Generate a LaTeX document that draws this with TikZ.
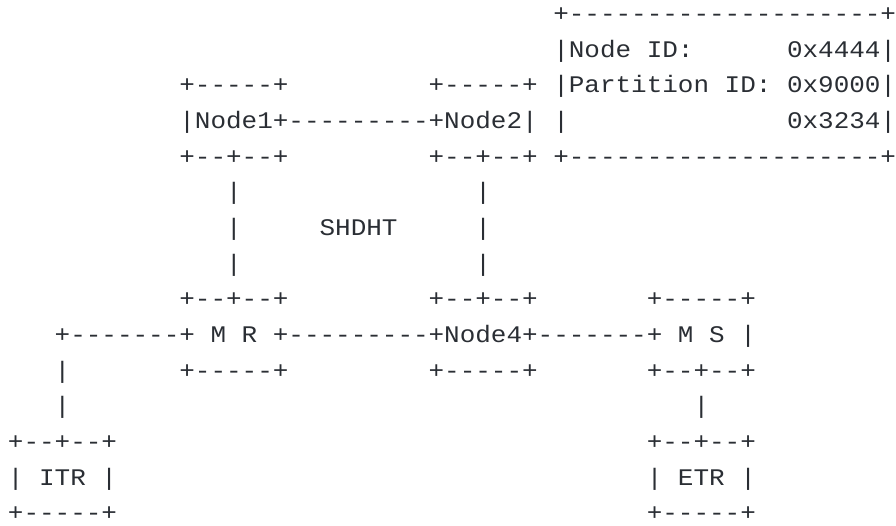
\documentclass[tikz,border=0pt]{standalone}
\usepackage{fontspec}
\newfontfamily\asciimono[FakeStretch=1.091]{Liberation Mono}
\definecolor{inkgray}{RGB}{42,46,52}
\newcommand\Seg[4]{\node[seg] (#1) at ({8+15.58*#2},{-21.7-35.64*#3}) {#4};}
\begin{document}
\begin{tikzpicture}[x=1pt,y=1pt,
  seg/.style={anchor=base west,inner sep=0pt,outer sep=0pt,text=inkgray,
    font=\asciimono\fontsize{23.8pt}{28pt}\selectfont}]
\useasboundingbox (0,0) rectangle (896,-525);
% right info box
\Seg{ibtop}{35}{0}{+--------------------+}
\Seg{ibnode}{35}{1}{|Node}
\Seg{ibid}{41}{1}{ID:}
\Seg{ibval}{50}{1}{0x4444|}
\Seg{ibpart}{35}{2}{|Partition}
\Seg{ibpid}{46}{2}{ID:}
\Seg{ibpval}{50}{2}{0x9000|}
\Seg{ibl}{35}{3}{|}
\Seg{ibpval2}{50}{3}{0x3234|}
\Seg{ibbot}{35}{4}{+--------------------+}
% Node1 / Node2
\Seg{ntop1}{11}{2}{+-----+}
\Seg{ntop2}{27}{2}{+-----+}
\Seg{nrow}{11}{3}{|Node1+---------+Node2|}
\Seg{nbot1}{11}{4}{+--+--+}
\Seg{nbot2}{27}{4}{+--+--+}
% SHDHT ring verticals
\Seg{va1}{14}{5}{|}
\Seg{vb1}{30}{5}{|}
\Seg{va2}{14}{6}{|}
\Seg{shdht}{20}{6}{SHDHT}
\Seg{vb2}{30}{6}{|}
\Seg{va3}{14}{7}{|}
\Seg{vb3}{30}{7}{|}
% M R / Node4 / M S
\Seg{mrtop}{11}{8}{+--+--+}
\Seg{n4top}{27}{8}{+--+--+}
\Seg{mstop}{41}{8}{+-----+}
\Seg{lnk}{3}{9}{+-------+}
\Seg{mrM}{13}{9}{M}
\Seg{mrR}{15}{9}{R}
\Seg{mid}{17}{9}{+---------+Node4+-------+}
\Seg{msM}{43}{9}{M}
\Seg{msS}{45}{9}{S}
\Seg{msr}{47}{9}{|}
\Seg{vl1}{3}{10}{|}
\Seg{mrbot}{11}{10}{+-----+}
\Seg{n4bot}{27}{10}{+-----+}
\Seg{msbot}{41}{10}{+--+--+}
\Seg{vl2}{3}{11}{|}
\Seg{vr2}{44}{11}{|}
% ITR / ETR
\Seg{itrtop}{0}{12}{+--+--+}
\Seg{etrtop}{41}{12}{+--+--+}
\Seg{itrl}{0}{13}{|}
\Seg{itr}{2}{13}{ITR}
\Seg{itrr}{6}{13}{|}
\Seg{etrl}{41}{13}{|}
\Seg{etr}{43}{13}{ETR}
\Seg{etrr}{47}{13}{|}
\Seg{itrbot}{0}{14}{+-----+}
\Seg{etrbot}{41}{14}{+-----+}
\end{tikzpicture}
\end{document}
